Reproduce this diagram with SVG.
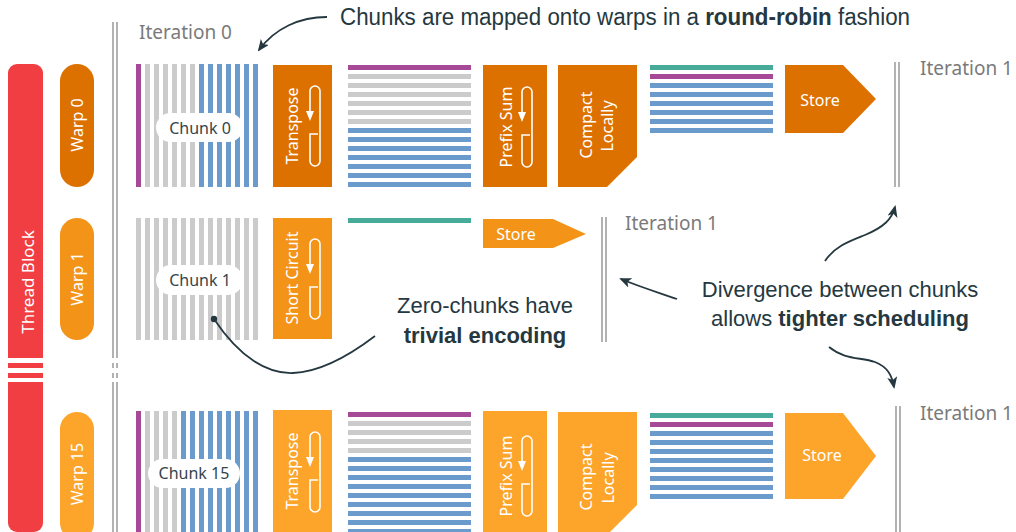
<svg xmlns="http://www.w3.org/2000/svg" width="1016" height="532" viewBox="0 0 1016 532">
<style>
.pu{fill:#a64a97}.gy{fill:#cbcbcb}.bl{fill:#6a9bcc}.te{fill:#46ab98}
.w0{fill:#dd7100}.w1{fill:#f39318}.w15{fill:#fca52a}
.lbl{font-family:"Noto Sans","Open Sans",sans-serif;fill:#fff;font-size:16px;text-anchor:middle;dominant-baseline:central}
.chk{font-family:"Noto Sans","Open Sans",sans-serif;fill:#34454b;font-size:16px;text-anchor:middle;dominant-baseline:central}
.it{font-family:"Noto Sans","Open Sans",sans-serif;fill:#7a7a7a;font-size:19px}
.ann{font-family:"Liberation Sans",Arial,sans-serif;fill:#253840;font-size:22px;text-anchor:middle}
.b{font-weight:bold}
.sep{stroke:#999;stroke-width:1.5;fill:none}
.con{stroke:#253840;stroke-width:1.8;fill:none}
.pill{fill:#fff}
</style>
<defs>
<marker id="ah" viewBox="0 0 12 10" refX="10" refY="5" markerWidth="12" markerHeight="10" markerUnits="userSpaceOnUse" orient="auto">
<path d="M0,0 L12,5 L0,10 L3,5 z" fill="#253840"/>
</marker>
<g id="loop">
<path d="M-5,-14 L-5,-35 A5,5 0 0 1 5,-35 L5,35 A5,5 0 0 1 -5,35 L-5,8 L3,8" fill="none" stroke="#fff" stroke-width="1.6"/>
<path d="M-5,-5 L-9,-15 L-1,-15 z" fill="#fff"/>
</g>
</defs>

<!-- separators -->
<g id="separators">
<path class="sep" d="M113,22 V358 M117,22 V358 M113,363 V368 M117,363 V368 M113,373 V378 M117,373 V378 M113,382 V532 M117,382 V532"/>
<path class="sep" d="M895,62 V187 M899,62 V187"/>
<path class="sep" d="M602,217 V342 M606,217 V342"/>
<path class="sep" d="M896,406 V532 M900,406 V532"/>
<text class="it" x="139" y="39">Iteration 0</text>
<text class="it" x="920" y="75">Iteration 1</text>
<text class="it" x="625" y="230">Iteration 1</text>
<text class="it" x="920" y="420">Iteration 1</text>
</g>

<!-- thread block -->
<g id="thread-block">
<path d="M8,358 V73 A9,9 0 0 1 17,64 H34 A9,9 0 0 1 43,73 V358 z" fill="#f03e42"/>
<rect x="8" y="363" width="35" height="5" fill="#f03e42"/>
<rect x="8" y="373" width="35" height="5" fill="#f03e42"/>
<path d="M8,382 H43 V523 A9,9 0 0 1 34,532 H17 A9,9 0 0 1 8,523 z" fill="#f03e42"/>
<text class="lbl" transform="rotate(-90 27 282)" x="27" y="282" style="font-size:17px">Thread Block</text>
</g>

<g id="warp0-label"><rect class="w0" x="60" y="64" width="34" height="123" rx="17"/><text class="lbl" transform="rotate(-90 77 125)" x="77" y="125">Warp 0</text></g>
<g id="warp1-label"><rect class="w1" x="60" y="218" width="34" height="122" rx="17"/><text class="lbl" transform="rotate(-90 77 279)" x="77" y="279">Warp 1</text></g>
<g id="warp15-label"><rect class="w15" x="60" y="412" width="34" height="128" rx="17"/><text class="lbl" transform="rotate(-90 77 474)" x="77" y="474">Warp 15</text></g>

<!-- Warp 0 row -->
<g id="chunk0">
<rect class="pu" x="136" y="64" width="5" height="123"/>
<rect class="gy" x="145" y="64" width="5" height="123"/><rect class="gy" x="154" y="64" width="5" height="123"/><rect class="gy" x="163" y="64" width="5" height="123"/><rect class="gy" x="172" y="64" width="5" height="123"/><rect class="gy" x="181" y="64" width="5" height="123"/><rect class="gy" x="190" y="64" width="5" height="123"/>
<rect class="bl" x="199" y="64" width="5" height="123"/><rect class="bl" x="208" y="64" width="5" height="123"/><rect class="bl" x="217" y="64" width="5" height="123"/><rect class="bl" x="226" y="64" width="5" height="123"/><rect class="bl" x="235" y="64" width="5" height="123"/><rect class="bl" x="244" y="64" width="5" height="123"/><rect class="bl" x="253" y="64" width="5" height="123"/>
<rect class="pill" x="156" y="113" width="87" height="29" rx="14.5"/>
<text class="chk" x="200" y="128">Chunk 0</text>
</g>
<g id="transpose0"><rect class="w0" x="273" y="65" width="59" height="122"/><text class="lbl" transform="rotate(-90 292 126)" x="292" y="126">Transpose</text><use href="#loop" x="315" y="126"/></g>
<g id="rows0">
<rect class="pu" x="348" y="65" width="123" height="5"/>
<rect class="gy" x="348" y="74" width="123" height="5"/><rect class="gy" x="348" y="83" width="123" height="5"/><rect class="gy" x="348" y="92" width="123" height="5"/><rect class="gy" x="348" y="101" width="123" height="5"/><rect class="gy" x="348" y="110" width="123" height="5"/><rect class="gy" x="348" y="119" width="123" height="5"/>
<rect class="bl" x="348" y="128" width="123" height="5"/><rect class="bl" x="348" y="137" width="123" height="5"/><rect class="bl" x="348" y="146" width="123" height="5"/><rect class="bl" x="348" y="155" width="123" height="5"/><rect class="bl" x="348" y="164" width="123" height="5"/><rect class="bl" x="348" y="173" width="123" height="5"/><rect class="bl" x="348" y="182" width="123" height="5"/>
</g>
<g id="prefix0"><rect class="w0" x="483" y="65" width="64" height="122"/><text class="lbl" transform="rotate(-90 506 127)" x="506" y="127">Prefix Sum</text><use href="#loop" x="527" y="127"/></g>
<g id="compact0"><polygon class="w0" points="558,65 637,65 637,157 607,187 558,187"/><text class="lbl" transform="rotate(-90 586 125)" x="586" y="125">Compact</text><text class="lbl" transform="rotate(-90 607 126)" x="607" y="126">Locally</text></g>
<g id="crows0">
<rect class="te" x="650" y="65" width="123" height="5"/><rect class="pu" x="650" y="74" width="123" height="5"/>
<rect class="bl" x="650" y="83" width="123" height="5"/><rect class="bl" x="650" y="92" width="123" height="5"/><rect class="bl" x="650" y="101" width="123" height="5"/><rect class="bl" x="650" y="110" width="123" height="5"/><rect class="bl" x="650" y="119" width="123" height="5"/><rect class="bl" x="650" y="128" width="123" height="5"/>
</g>
<g id="store0"><polygon class="w0" points="785,65 843,65 876,99 843,133 785,133"/><text class="lbl" x="820" y="100">Store</text></g>

<!-- Warp 1 row -->
<g id="chunk1">
<rect class="gy" x="136" y="218" width="5" height="122"/><rect class="gy" x="145" y="218" width="5" height="122"/><rect class="gy" x="154" y="218" width="5" height="122"/><rect class="gy" x="163" y="218" width="5" height="122"/><rect class="gy" x="172" y="218" width="5" height="122"/><rect class="gy" x="181" y="218" width="5" height="122"/><rect class="gy" x="190" y="218" width="5" height="122"/>
<rect class="gy" x="199" y="218" width="5" height="122"/><rect class="gy" x="208" y="218" width="5" height="122"/><rect class="gy" x="217" y="218" width="5" height="122"/><rect class="gy" x="226" y="218" width="5" height="122"/><rect class="gy" x="235" y="218" width="5" height="122"/><rect class="gy" x="244" y="218" width="5" height="122"/><rect class="gy" x="253" y="218" width="5" height="122"/>
<rect class="pill" x="156" y="265" width="87" height="30" rx="15"/>
<text class="chk" x="200" y="280">Chunk 1</text>
</g>
<g id="short1"><rect class="w1" x="273" y="218" width="59" height="121"/><text class="lbl" transform="rotate(-90 292 278)" x="292" y="278">Short Circuit</text><use href="#loop" x="315" y="279"/></g>
<g id="rows1"><rect class="te" x="348" y="218" width="123" height="5"/></g>
<g id="store1"><polygon class="w1" points="483,219 553,219 586,234 553,248 483,248"/><text class="lbl" x="516" y="234">Store</text></g>

<!-- Warp 15 row -->
<g id="chunk15">
<rect class="pu" x="136" y="411" width="5" height="125"/>
<rect class="gy" x="145" y="411" width="5" height="125"/><rect class="gy" x="154" y="411" width="5" height="125"/><rect class="gy" x="163" y="411" width="5" height="125"/><rect class="gy" x="172" y="411" width="5" height="125"/>
<rect class="bl" x="181" y="411" width="5" height="125"/><rect class="bl" x="190" y="411" width="5" height="125"/><rect class="bl" x="199" y="411" width="5" height="125"/><rect class="bl" x="208" y="411" width="5" height="125"/><rect class="bl" x="217" y="411" width="5" height="125"/><rect class="bl" x="226" y="411" width="5" height="125"/><rect class="bl" x="235" y="411" width="5" height="125"/><rect class="bl" x="244" y="411" width="5" height="125"/><rect class="bl" x="253" y="411" width="5" height="125"/>
<rect class="pill" x="148" y="459" width="92" height="29" rx="14.5"/>
<text class="chk" x="194" y="473">Chunk 15</text>
</g>
<g id="transpose15"><rect class="w15" x="273" y="410" width="59" height="126"/><text class="lbl" transform="rotate(-90 292 471)" x="292" y="471">Transpose</text><use href="#loop" x="315" y="472"/></g>
<g id="rows15">
<rect class="pu" x="348" y="412" width="123" height="5"/>
<rect class="gy" x="348" y="421" width="123" height="5"/><rect class="gy" x="348" y="430" width="123" height="5"/><rect class="gy" x="348" y="439" width="123" height="5"/><rect class="gy" x="348" y="448" width="123" height="5"/>
<rect class="bl" x="348" y="457" width="123" height="5"/><rect class="bl" x="348" y="466" width="123" height="5"/><rect class="bl" x="348" y="475" width="123" height="5"/><rect class="bl" x="348" y="484" width="123" height="5"/><rect class="bl" x="348" y="493" width="123" height="5"/><rect class="bl" x="348" y="502" width="123" height="5"/><rect class="bl" x="348" y="511" width="123" height="5"/><rect class="bl" x="348" y="520" width="123" height="5"/><rect class="bl" x="348" y="529" width="123" height="5"/>
</g>
<g id="prefix15"><rect class="w15" x="483" y="411" width="64" height="125"/><text class="lbl" transform="rotate(-90 506 476)" x="506" y="476">Prefix Sum</text><use href="#loop" x="527" y="476"/></g>
<g id="compact15"><polygon class="w15" points="558,412 637,412 637,505 610,532 558,532"/><text class="lbl" transform="rotate(-90 586 477)" x="586" y="477">Compact</text><text class="lbl" transform="rotate(-90 608 478)" x="608" y="478">Locally</text></g>
<g id="crows15">
<rect class="te" x="650" y="413" width="123" height="5"/><rect class="pu" x="650" y="422" width="123" height="5"/>
<rect class="bl" x="650" y="431" width="123" height="5"/><rect class="bl" x="650" y="440" width="123" height="5"/><rect class="bl" x="650" y="449" width="123" height="5"/><rect class="bl" x="650" y="458" width="123" height="5"/><rect class="bl" x="650" y="467" width="123" height="5"/><rect class="bl" x="650" y="476" width="123" height="5"/><rect class="bl" x="650" y="485" width="123" height="5"/><rect class="bl" x="650" y="494" width="123" height="5"/>
</g>
<g id="store15"><polygon class="w15" points="785,413 843,413 876,456 843,499 785,499"/><text class="lbl" x="822" y="455">Store</text></g>

<!-- annotations -->
<g id="annotations">
<text class="ann" x="625" y="25" style="font-size:23px" textLength="570" lengthAdjust="spacingAndGlyphs">Chunks are mapped onto warps in a <tspan class="b">round-robin</tspan> fashion</text>
<text class="ann" x="485" y="313">Zero-chunks have</text>
<text class="ann b" x="485" y="343">trivial encoding</text>
<text class="ann" x="840" y="297">Divergence between chunks</text>
<text class="ann" x="840" y="326">allows <tspan class="b">tighter scheduling</tspan></text>
</g>

<g id="connectors">
<path class="con" d="M327,17 C300,17 275,28 259,50" marker-end="url(#ah)"/>
<circle cx="214" cy="319" r="3.2" fill="#253840"/>
<path class="con" d="M214,319 C240,358 268,374 293,373 C320,372 350,355 375,336"/>
<path class="con" d="M677,299 C660,293 640,287 621,279" marker-end="url(#ah)"/>
<path class="con" d="M825,261 C835,246 850,241 865,235 C884,227 892,219 895,207" marker-end="url(#ah)"/>
<path class="con" d="M829,347 C845,360 860,357 875,362 C888,367 892,376 894,387" marker-end="url(#ah)"/>
</g>
</svg>
